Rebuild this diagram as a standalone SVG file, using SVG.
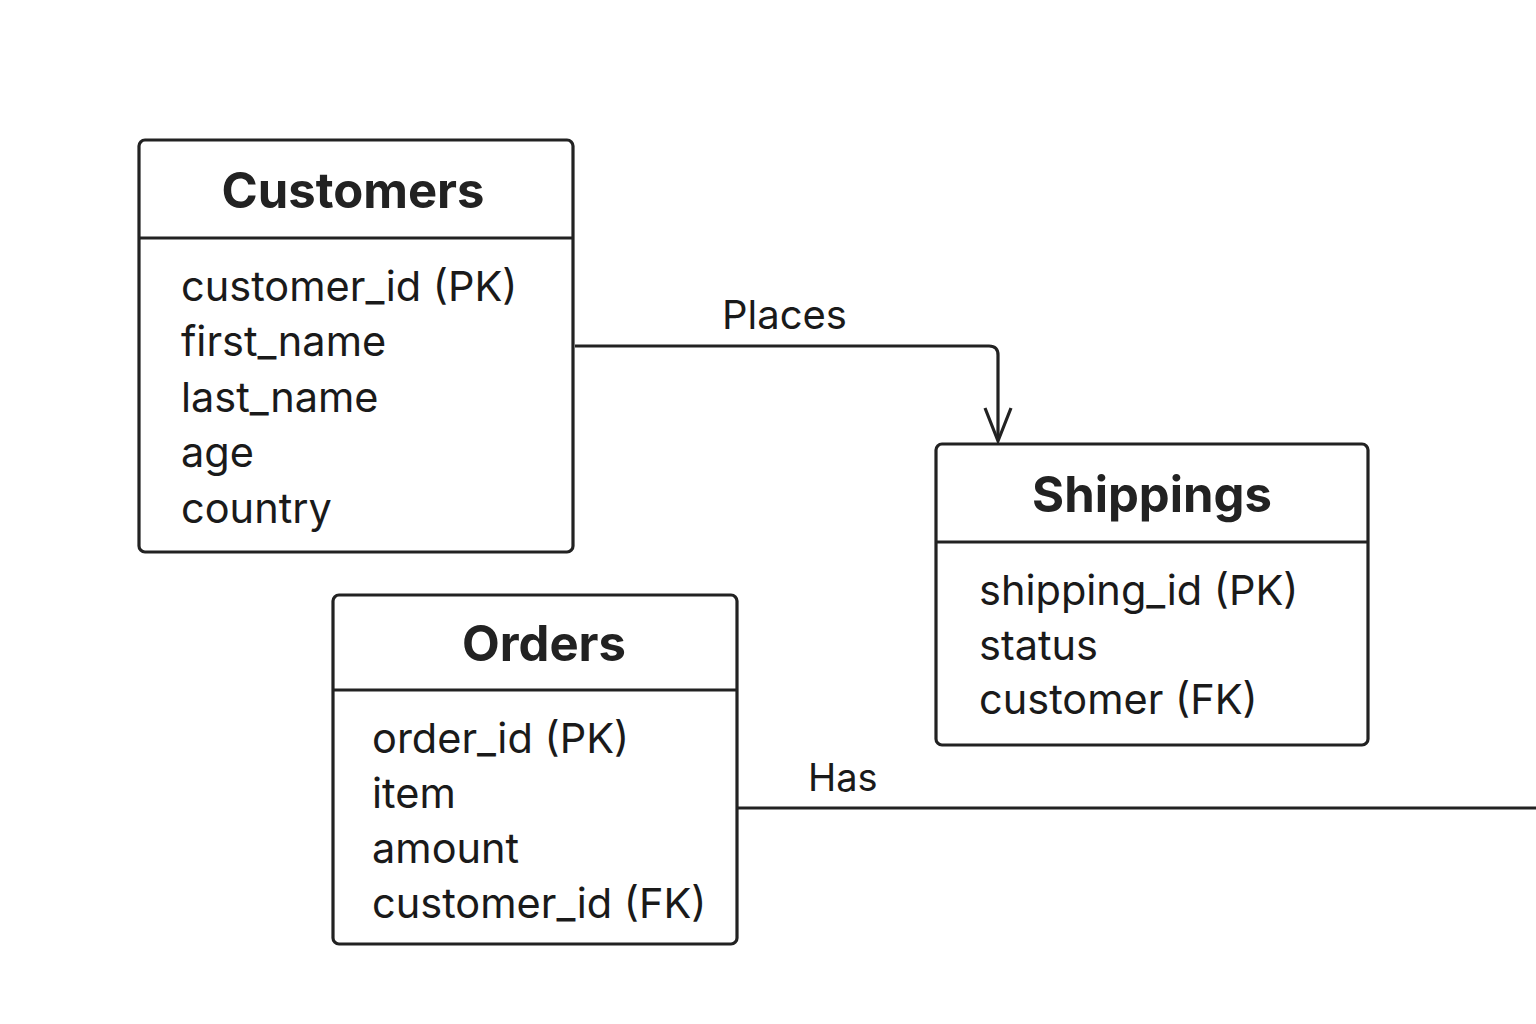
<svg xmlns="http://www.w3.org/2000/svg" width="1536" height="1024" viewBox="0 0 1536 1024">
<style>
.box{fill:#fff;stroke:#222;stroke-width:3.2}
.div{stroke:#222;stroke-width:3.2}
.title{font-family:Inter,"Liberation Sans",sans-serif;font-weight:700;font-size:49px;fill:#222;text-anchor:middle}
.attr{font-family:Inter,"Liberation Sans",sans-serif;font-size:41.5px;fill:#1a1a1a}
.lbl{font-family:Inter,"Liberation Sans",sans-serif;font-size:40px;fill:#1a1a1a}
.conn{fill:none;stroke:#222;stroke-width:3.2}
</style>
<rect width="1536" height="1024" fill="#fff"/>
<g id="customers">
<rect class="box" x="139" y="140" width="434" height="412" rx="6"/>
<line class="div" x1="139" y1="238" x2="573" y2="238"/>
<text class="title" x="353" y="208">Customers</text>
<text class="attr" x="181" y="301">customer_id (PK)</text>
<text class="attr" x="181" y="356">first_name</text>
<text class="attr" x="181" y="412">last_name</text>
<text class="attr" x="181" y="467">age</text>
<text class="attr" x="181" y="523">country</text>
</g>
<g id="shippings">
<rect class="box" x="936" y="444" width="432" height="301" rx="6"/>
<line class="div" x1="936" y1="542" x2="1368" y2="542"/>
<text class="title" x="1152" y="512">Shippings</text>
<text class="attr" x="979" y="605">shipping_id (PK)</text>
<text class="attr" x="979" y="660">status</text>
<text class="attr" x="979" y="714">customer (FK)</text>
</g>
<g id="orders">
<rect class="box" x="333" y="595" width="404" height="349" rx="6"/>
<line class="div" x1="333" y1="690" x2="737" y2="690"/>
<text class="title" x="544" y="661">Orders</text>
<text class="attr" x="372" y="753">order_id (PK)</text>
<text class="attr" x="372" y="808">item</text>
<text class="attr" x="372" y="863">amount</text>
<text class="attr" x="372" y="918">customer_id (FK)</text>
</g>
<g id="connectors">
<path class="conn" d="M575 346 H989 Q998 346 998 355 V440"/>
<path class="conn" d="M985 408 L998 441 L1011 408"/>
<text class="lbl" x="722" y="329">Places</text>
<path class="conn" d="M738 808 H1536"/>
<text class="lbl" x="808" y="791" style="font-size:38px">Has</text>
</g>
</svg>
